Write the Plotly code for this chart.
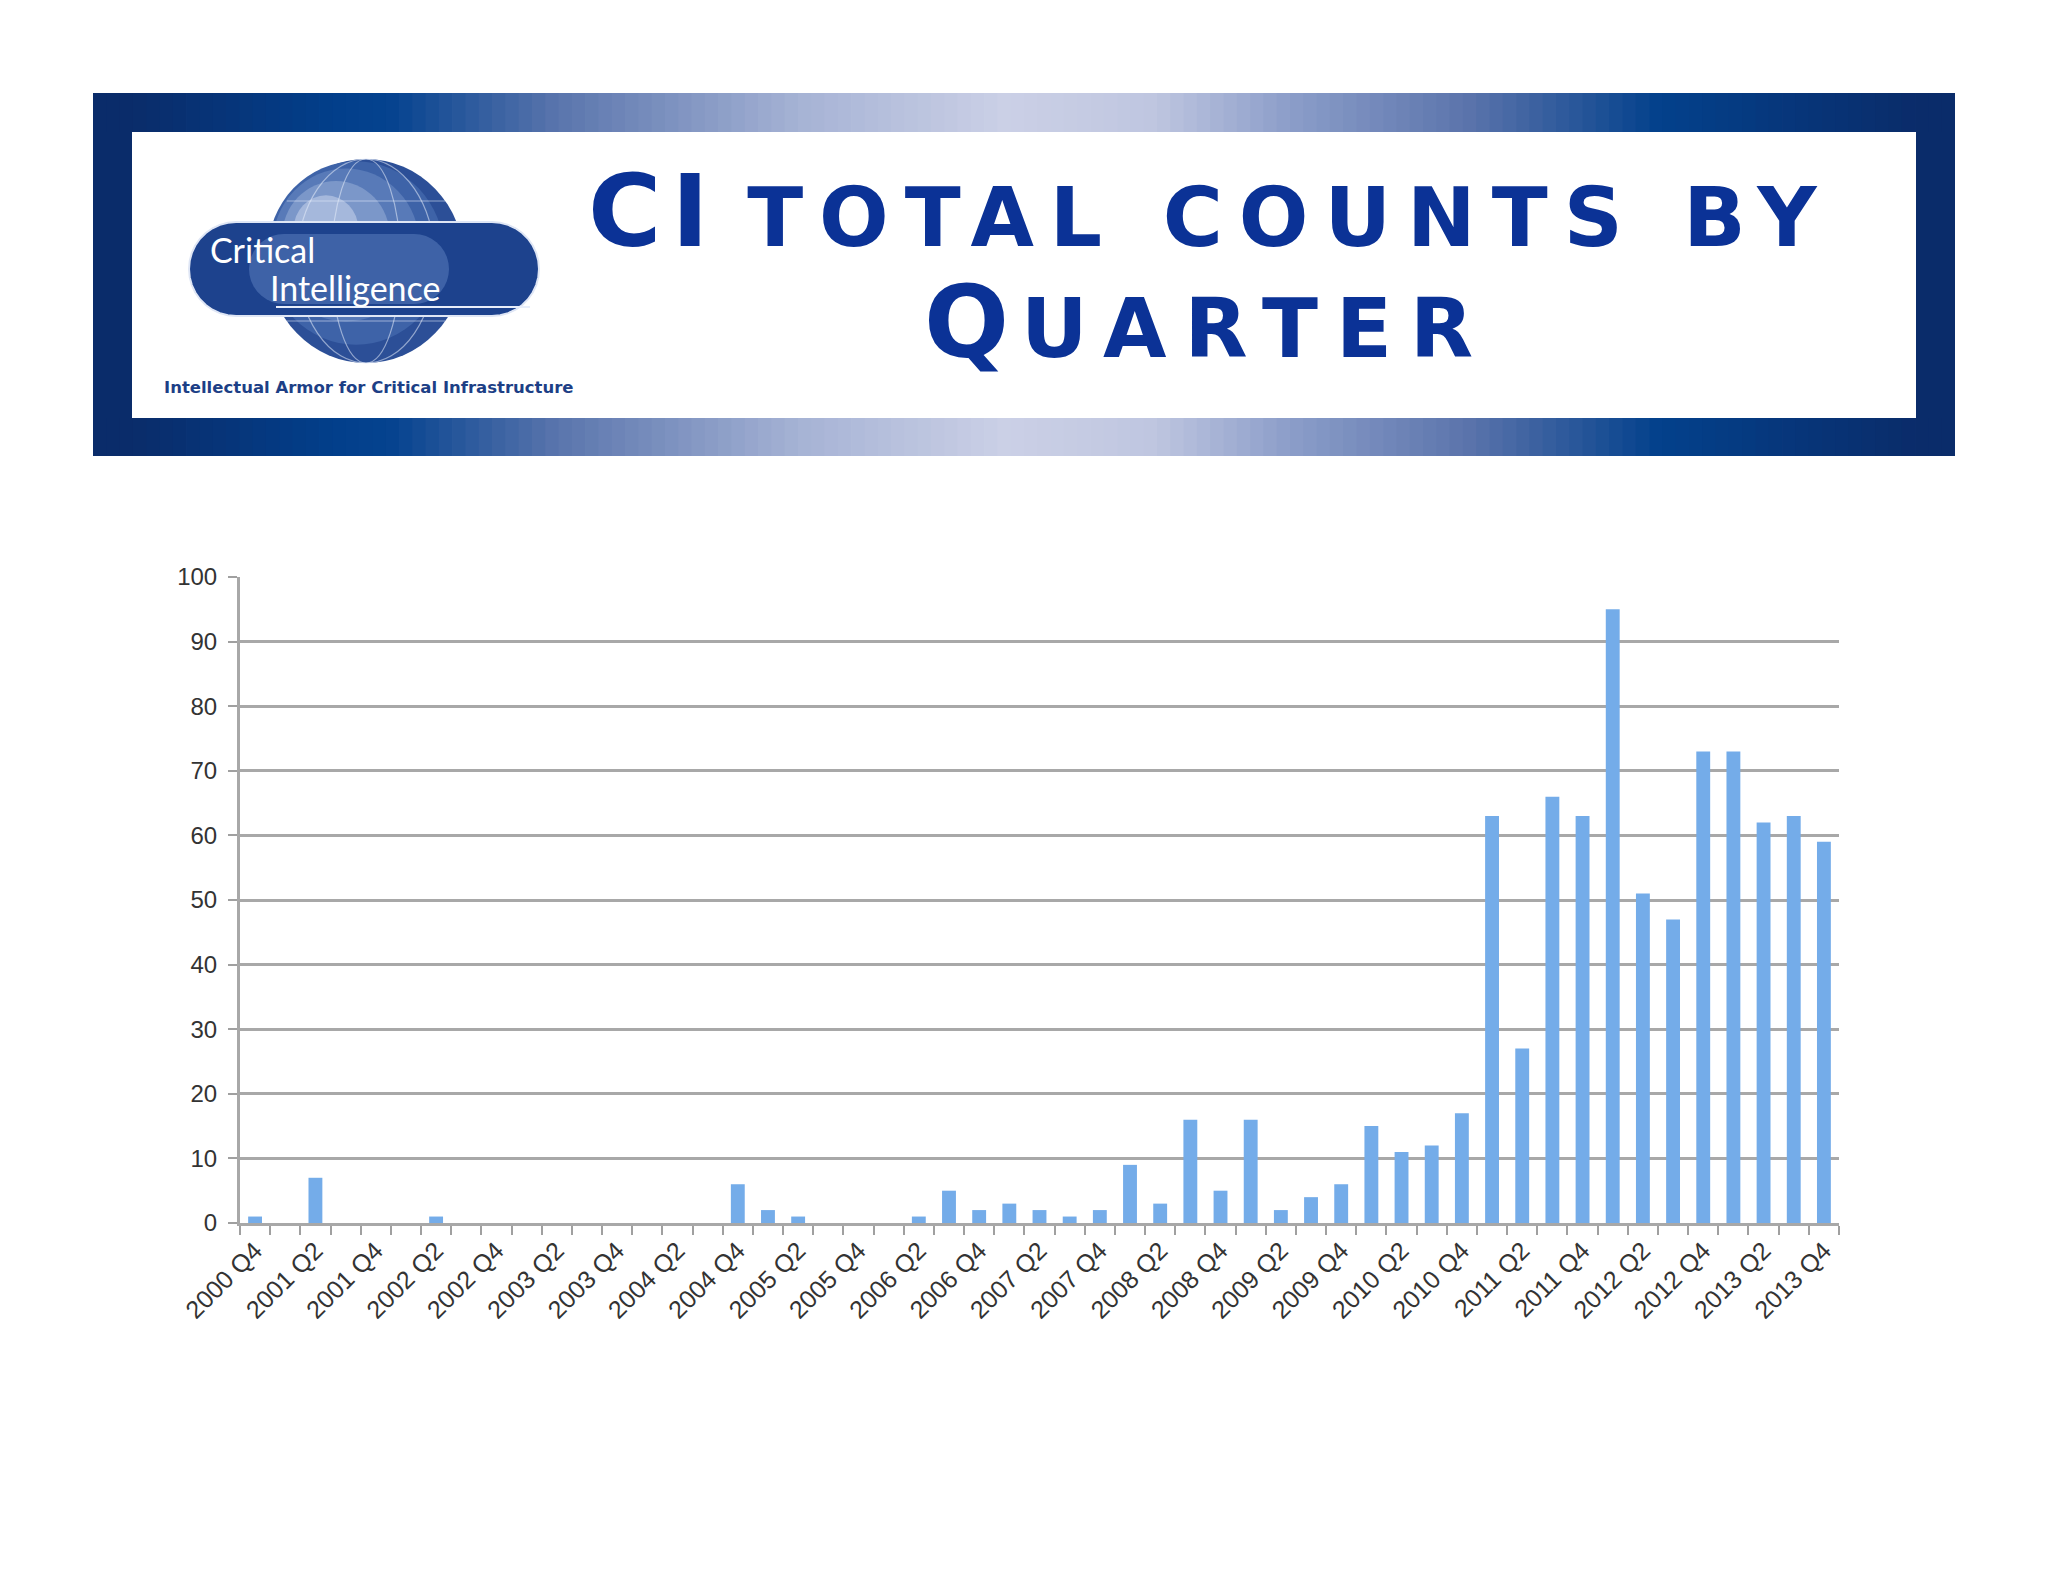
import math
import plotly.graph_objects as go

# ---------------- data ----------------
quarters = [
    "2000 Q4",
    "2001 Q1", "2001 Q2", "2001 Q3", "2001 Q4",
    "2002 Q1", "2002 Q2", "2002 Q3", "2002 Q4",
    "2003 Q1", "2003 Q2", "2003 Q3", "2003 Q4",
    "2004 Q1", "2004 Q2", "2004 Q3", "2004 Q4",
    "2005 Q1", "2005 Q2", "2005 Q3", "2005 Q4",
    "2006 Q1", "2006 Q2", "2006 Q3", "2006 Q4",
    "2007 Q1", "2007 Q2", "2007 Q3", "2007 Q4",
    "2008 Q1", "2008 Q2", "2008 Q3", "2008 Q4",
    "2009 Q1", "2009 Q2", "2009 Q3", "2009 Q4",
    "2010 Q1", "2010 Q2", "2010 Q3", "2010 Q4",
    "2011 Q1", "2011 Q2", "2011 Q3", "2011 Q4",
    "2012 Q1", "2012 Q2", "2012 Q3", "2012 Q4",
    "2013 Q1", "2013 Q2", "2013 Q3", "2013 Q4",
]
counts = [
    1,
    0, 7, 0, 0,
    0, 1, 0, 0,
    0, 0, 0, 0,
    0, 0, 0, 6,
    2, 1, 0, 0,
    0, 1, 5, 2,
    3, 2, 1, 2,
    9, 3, 16, 5,
    16, 2, 4, 6,
    15, 11, 12, 17,
    63, 27, 66, 63,
    95, 51, 47, 73,
    73, 62, 63, 59,
]
tick_labels = [q if i % 2 == 0 else "" for i, q in enumerate(quarters)]
y_ticks = list(range(0, 101, 10))

title_big1, title_small1 = "CI", "TOTAL COUNTS BY"
title_big2, title_small2 = "Q", "UARTER"
logo_word1 = "Critical"
logo_word2 = "Intelligence"
tagline = "Intellectual Armor for Critical Infrastructure"

# ---------------- geometry helpers (page pixel coords) ----------------
OFF = 8                      # default body margin of the html page
W, H = 2048 - 2 * OFF, 1582 - 2 * OFF
L, R, T, B = 240, 1839, 577, 1223   # plot area in page pixels


def px(x):
    return (x - L) / (R - L)


def py(y):
    return (B - y) / (B - T)


def hex2rgb(h):
    h = h.lstrip("#")
    return tuple(int(h[i:i + 2], 16) for i in (0, 2, 4))


def interp(stops, f):
    for (f0, c0), (f1, c1) in zip(stops, stops[1:]):
        if f0 <= f <= f1:
            t = (f - f0) / (f1 - f0) if f1 > f0 else 0
            a, b = hex2rgb(c0), hex2rgb(c1)
            return "rgb(%d,%d,%d)" % tuple(round(a[k] + (b[k] - a[k]) * t) for k in range(3))
    return stops[-1][1]


EDGE = "#0a2c6a"
grad_stops = [
    (0.0, EDGE), (0.022, EDGE), (0.13, "#023f8b"), (0.16, "#05438f"), (0.25, "#5a75ad"),
    (0.38, "#a6b3d5"), (0.49, "#cbd0e6"), (0.57, "#bfc6e0"), (0.64, "#8d9fca"),
    (0.74, "#5a73ab"), (0.84, "#03418c"), (0.978, EDGE), (1.0, EDGE),
]

shapes = []
fx0, fx1 = 93, 1955
for (xa, xb) in [(93, 132), (1916, 1955)]:
    shapes.append(dict(type="rect", xref="paper", yref="paper",
                       x0=px(xa), x1=px(xb), y0=py(456), y1=py(93),
                       fillcolor=EDGE, line=dict(width=0), layer="below"))
n = 140
for i in range(n):
    xa = fx0 + (fx1 - fx0) * i / n
    xb = min(fx0 + (fx1 - fx0) * (i + 1) / n + 0.8, fx1)
    col = interp(grad_stops, (i + 0.5) / n)
    for (ya, yb) in [(93, 132), (418, 456)]:
        shapes.append(dict(type="rect", xref="paper", yref="paper",
                           x0=px(xa), x1=px(xb), y0=py(yb), y1=py(ya),
                           fillcolor=col, line=dict(width=0), layer="below"))

# globe
cx, cy, rx, ry = 366, 261, 98, 102
globe_layers = [(1.0, "#2c4f97"), (0.9, "#3e63a8"), (0.75, "#587ab8"), (0.55, "#7b97c9"), (0.33, "#a5b8dc")]
for k, (s, col) in enumerate(globe_layers):
    ox, oy = -10 * k, -8 * k
    shapes.append(dict(type="circle", xref="paper", yref="paper",
                       x0=px(cx + ox - rx * s), x1=px(cx + ox + rx * s),
                       y0=py(cy + oy + ry * s), y1=py(cy + oy - ry * s),
                       fillcolor=col, line=dict(width=0), layer="below"))
for s in [0.35, 0.7]:
    shapes.append(dict(type="circle", xref="paper", yref="paper",
                       x0=px(cx - rx * s), x1=px(cx + rx * s),
                       y0=py(cy + ry), y1=py(cy - ry),
                       fillcolor="rgba(0,0,0,0)", line=dict(width=1.2, color="rgba(230,236,250,0.55)"),
                       layer="below"))
for dy in [-60, -30, 30, 60]:
    half = rx * (1 - (dy / ry) ** 2) ** 0.5
    shapes.append(dict(type="line", xref="paper", yref="paper",
                       x0=px(cx - half), x1=px(cx + half), y0=py(cy + dy), y1=py(cy + dy),
                       line=dict(width=1.2, color="rgba(230,236,250,0.55)"), layer="below"))


def pill_path(l, r, t, b, rad):
    pts = []
    for a in range(90, 271, 10):
        t_ = math.radians(a)
        pts.append((l + rad + rad * math.cos(t_), (t + b) / 2 - rad * math.sin(t_)))
    for a in range(-90, 91, 10):
        t_ = math.radians(a)
        pts.append((r - rad + rad * math.cos(t_), (t + b) / 2 - rad * math.sin(t_)))
    return "M " + " L ".join("%.5f,%.5f" % (px(a), py(b_)) for a, b_ in pts) + " Z"


pl, pr, pt, pb = 189, 539, 222, 316
shapes.append(dict(type="path", xref="paper", yref="paper", path=pill_path(pl, pr, pt, pb, (pb - pt) / 2),
                   fillcolor="#1d428d", line=dict(width=2, color="#dfe6f5"), layer="below"))
shapes.append(dict(type="path", xref="paper", yref="paper",
                   path=pill_path(pl + 60, pr - 90, pt + 12, pb - 12, (pb - pt - 24) / 2),
                   fillcolor="rgba(90,125,190,0.55)", line=dict(width=0), layer="below"))
shapes.append(dict(type="line", xref="paper", yref="paper",
                   x0=px(276), x1=px(530), y0=py(307), y1=py(307),
                   line=dict(width=2, color="#e8eefa"), layer="below"))

# ---------------- figure ----------------
fig = go.Figure()
fig.add_trace(go.Bar(
    x=quarters, y=counts,
    marker=dict(color="#74ace9", line=dict(width=0)),
    width=0.46,
))

title_font = dict(family="DejaVu Sans", size=82, color="#0b3296", weight="bold")
annotations = [
    dict(xref="paper", yref="paper", x=px(1210), y=py(212), xanchor="center", yanchor="middle",
         showarrow=False,
         text=("<span style='font-size:100px;letter-spacing:10px'>%s</span> "
               "<span style='font-size:82px;letter-spacing:16px'>%s</span>") % (title_big1, title_small1),
         font=title_font),
    dict(xref="paper", yref="paper", x=px(1207), y=py(322), xanchor="center", yanchor="middle",
         showarrow=False,
         text=("<span style='font-size:100px;letter-spacing:12px'>%s</span>"
               "<span style='font-size:82px;letter-spacing:18px'>%s</span>") % (title_big2, title_small2),
         font=title_font),
    dict(xref="paper", yref="paper", x=px(208), y=py(250), xanchor="left", yanchor="middle",
         showarrow=False, text=logo_word1,
         font=dict(family="Lato", size=34, color="white")),
    dict(xref="paper", yref="paper", x=px(268), y=py(288), xanchor="left", yanchor="middle",
         showarrow=False, text=logo_word2,
         font=dict(family="Lato", size=34, color="white")),
    dict(xref="paper", yref="paper", x=px(369), y=py(387), xanchor="center", yanchor="middle",
         showarrow=False, text=tagline,
         font=dict(family="DejaVu Sans", size=16.5, color="#1d3f86", weight="bold")),
]

fig.update_layout(
    width=W, height=H, autosize=False,
    margin=dict(l=L - OFF, r=W - (R - OFF), t=T - OFF, b=H - (B - OFF), pad=0),
    paper_bgcolor="white", plot_bgcolor="white",
    showlegend=False,
    shapes=shapes,
    annotations=annotations,
)
fig.update_xaxes(
    type="category",
    tickmode="array", tickvals=quarters, ticktext=tick_labels,
    tickson="boundaries", ticks="outside", ticklen=9, tickwidth=2, tickcolor="#a0a0a0",
    tickangle=-45,
    tickfont=dict(family="Liberation Sans", size=25, color="#333333"),
    showgrid=False, showline=True, linecolor="#a8a8a8", linewidth=3,
    range=[-0.5, len(quarters) - 0.5], zeroline=False,
)
fig.update_yaxes(
    range=[0, 100], tickmode="array", tickvals=y_ticks,
    ticks="outside", ticklen=9, tickwidth=2, tickcolor="#a0a0a0",
    tickfont=dict(family="Liberation Sans", size=24, color="#333333"),
    showgrid=True, gridcolor="#a8a8a8", gridwidth=3,
    showline=True, linecolor="#a8a8a8", linewidth=3,
    zeroline=False, ticklabelstandoff=6,
)

fig.write_html("out.html")
